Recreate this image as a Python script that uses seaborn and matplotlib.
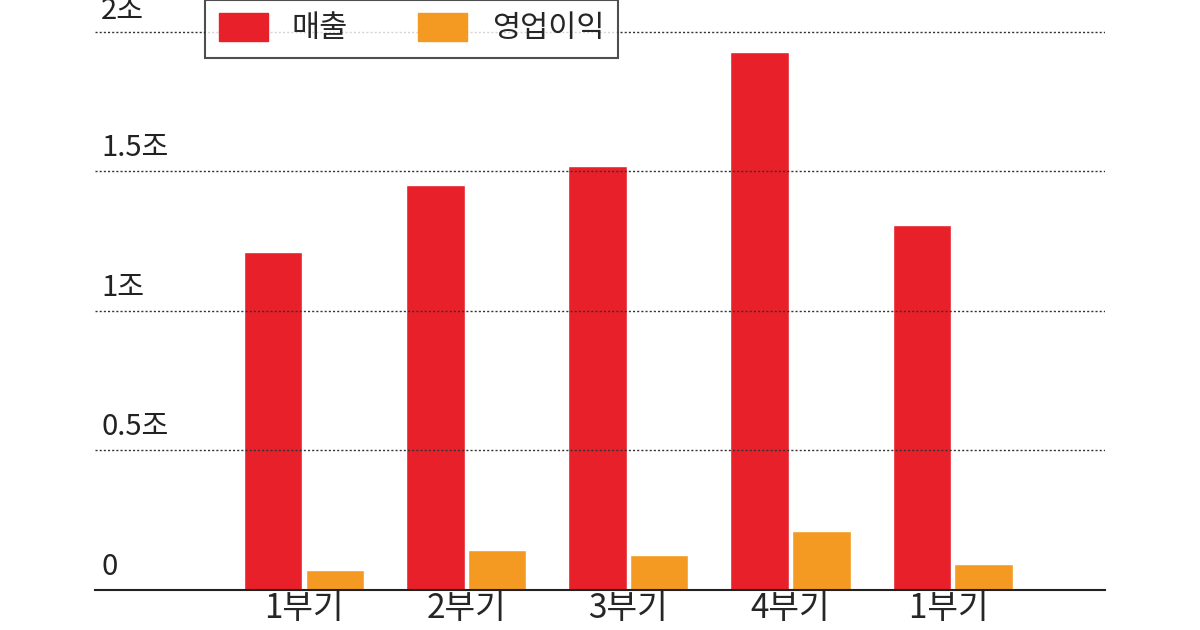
import numpy as np
import pandas as pd
import matplotlib.pyplot as plt
import seaborn as sns

# === DATA (조 원) ===
quarters = ["1부기", "2부기", "3부기", "4부기", "1부기 "]
sales = [1.21, 1.45, 1.52, 1.93, 1.31]
profit = [0.072, 0.143, 0.125, 0.211, 0.093]
ytick_vals = [0, 0.5, 1, 1.5, 2]
ytick_labels = ["0", "0.5조", "1조", "1.5조", "2조"]

df = pd.DataFrame({
    "분기": quarters * 2,
    "값": sales + profit,
    "구분": ["매출"] * len(quarters) + ["영업이익"] * len(quarters),
})

sns.set_theme(style="white")
plt.rcParams['font.family'] = ['Noto Sans CJK KR', 'DejaVu Sans']

fig = plt.figure(figsize=(12, 6.3), dpi=100)
ax = fig.add_axes([0.079, 0.0635, 0.842, 0.930])

sns.barplot(data=df, x="분기", y="값", hue="구분", order=quarters,
            palette={"매출": "#e8202a", "영업이익": "#f49a22"},
            width=0.76, gap=0.05, saturation=1, ax=ax, legend=False)

ax.set_xlim(-1.29, 4.94)
ax.set_ylim(0, 2.1)
ax.set_xlabel("")
ax.set_ylabel("")
ax.set_yticks([])
for v, lab in zip(ytick_vals, ytick_labels):
    if v > 0:
        ax.axhline(v, color="#333333", linestyle=(0, (1.5, 1.5)), linewidth=1)
    ypos = min(v + 0.03, 2.02)
    ax.text(-1.25, ypos, lab, fontsize=21, ha="left", va="bottom", color="#222222")

ax.tick_params(axis="x", labelsize=24, length=0, pad=1)
for s in ["top", "right", "left"]:
    ax.spines[s].set_visible(False)
ax.spines["bottom"].set_color("#222222")
ax.spines["bottom"].set_linewidth(1.5)

handles = [plt.Rectangle((0, 0), 1, 1, color="#e8202a"),
           plt.Rectangle((0, 0), 1, 1, color="#f49a22")]
leg = fig.legend(handles, ["매출", "영업이익"], loc="upper left",
                 bbox_to_anchor=(0.158, 1.025), ncol=2, fontsize=22,
                 frameon=True, fancybox=False, edgecolor="#222222",
                 handlelength=1.6, handleheight=1.0, columnspacing=2.3,
                 borderpad=0.45)
leg.get_frame().set_linewidth(1.5)

fig.savefig("out.png", dpi=100)
